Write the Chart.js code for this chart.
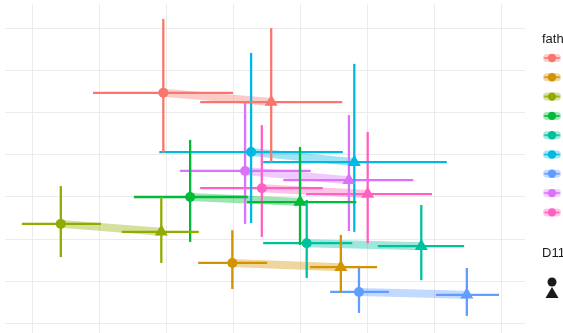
<!DOCTYPE html>
<html>
<head>
<meta charset="utf-8">
<script src="https://cdn.jsdelivr.net/npm/chart.js@4"></script>
<style>
  html, body { margin: 0; padding: 0; background: #fff; }
  #wrap { width: 563px; height: 333px; overflow: hidden; }
</style>
</head>
<body>
<div id="wrap"><canvas id="chart" width="563" height="333"></canvas></div>
<script>
// one entry per level of "father", in legend order
var fathColors = ['#F8766D', '#D39200', '#93AA00', '#00BA38', '#00C19F', '#00B9E3', '#619CFF', '#DB72FB', '#FF61C3'];

// D11 = first level (circles)
var x1   = [1.96, 2.99, 0.43, 2.36, 4.10, 3.27, 4.88, 3.18, 3.43];
var x1Lo = [0.91, 2.48, -0.15, 1.52, 3.45, 1.90, 4.45, 2.21, 2.51];
var x1Hi = [3.00, 3.51, 1.03, 3.22, 4.78, 4.64, 5.33, 4.16, 4.34];
var y1   = [5.48, 1.43, 2.36, 3.00, 1.90, 4.07, 0.74, 3.62, 3.21];
var y1Lo = [4.05, 0.81, 1.57, 1.93, 1.07, 2.38, 0.24, 2.36, 2.05];
var y1Hi = [7.24, 2.21, 3.26, 4.36, 2.93, 6.43, 1.36, 5.26, 4.71];

// D11 = second level (triangles)
var x2   = [3.57, 4.61, 1.93, 4.00, 5.81, 4.81, 6.49, 4.73, 5.01];
var x2Lo = [2.51, 4.15, 1.34, 3.21, 5.16, 3.45, 6.03, 3.75, 4.09];
var x2Hi = [4.63, 5.15, 2.49, 4.84, 6.45, 6.19, 6.97, 5.69, 5.97];
var y2   = [5.26, 1.33, 2.17, 2.88, 1.83, 3.83, 0.67, 3.40, 3.07];
var y2Lo = [3.83, 0.71, 1.43, 1.86, 1.02, 2.17, 0.17, 2.19, 1.90];
var y2Hi = [7.02, 2.10, 3.00, 4.19, 2.81, 6.17, 1.31, 4.95, 4.55];

function alpha(hex, a) {
    var n = parseInt(hex.slice(1), 16);
    return 'rgba(' + (n >> 16) + ',' + ((n >> 8) & 255) + ',' + (n & 255) + ',' + a + ')';
}

function segment(data, color, width, order) {
    return {
        type: 'line', data: data, borderColor: color, borderWidth: width,
        pointRadius: 0, showLine: true, fill: false, order: order
    };
}

var datasets = [];
for (var i = 0; i < fathColors.length; i++) {
    var c = fathColors[i];
    // connecting band
    datasets.push(segment([{x: x1[i], y: y1[i]}, {x: x2[i], y: y2[i]}], alpha(c, 0.38), 8, 3));
    // error bars
    datasets.push(segment([{x: x1Lo[i], y: y1[i]}, {x: x1Hi[i], y: y1[i]}], c, 2.3, 2));
    datasets.push(segment([{x: x1[i], y: y1Lo[i]}, {x: x1[i], y: y1Hi[i]}], c, 2.3, 2));
    datasets.push(segment([{x: x2Lo[i], y: y2[i]}, {x: x2Hi[i], y: y2[i]}], c, 2.3, 2));
    datasets.push(segment([{x: x2[i], y: y2Lo[i]}, {x: x2[i], y: y2Hi[i]}], c, 2.3, 2));
    // points
    datasets.push({
        type: 'scatter', data: [{x: x1[i], y: y1[i]}], pointStyle: 'circle',
        pointRadius: 5, backgroundColor: c, borderColor: c, borderWidth: 0, order: 1
    });
    datasets.push({
        type: 'scatter', data: [{x: x2[i], y: y2[i]}], pointStyle: 'triangle',
        pointRadius: 7.5, backgroundColor: c, borderColor: c, borderWidth: 0, order: 1
    });
}

// legend drawn by hand to the right of the panel
var legendPlugin = {
    id: 'sideLegend',
    afterDraw: function (chart) {
        var ctx = chart.ctx;
        ctx.save();
        ctx.fillStyle = '#1a1a1a';
        ctx.font = '13px "Liberation Sans", Arial, sans-serif';
        ctx.textBaseline = 'middle';
        ctx.fillText('father', 542, 39);
        for (var k = 0; k < fathColors.length; k++) {
            var yy = 58 + k * 19.3;
            ctx.strokeStyle = alpha(fathColors[k], 0.35);
            ctx.lineWidth = 8;
            ctx.lineCap = 'round';
            ctx.beginPath(); ctx.moveTo(547, yy); ctx.lineTo(557, yy); ctx.stroke();
            ctx.strokeStyle = alpha(fathColors[k], 0.8);
            ctx.lineWidth = 2;
            ctx.beginPath(); ctx.moveTo(545, yy); ctx.lineTo(559, yy); ctx.stroke();
            ctx.fillStyle = fathColors[k];
            ctx.beginPath(); ctx.arc(552, yy, 4.2, 0, Math.PI * 2); ctx.fill();
        }
        ctx.fillStyle = '#1a1a1a';
        ctx.fillText('D11', 542, 253);
        ctx.beginPath(); ctx.arc(552, 282, 4.5, 0, Math.PI * 2); ctx.fill();
        ctx.beginPath();
        ctx.moveTo(552, 287); ctx.lineTo(558.5, 298); ctx.lineTo(545.5, 298); ctx.closePath();
        ctx.fill();
        ctx.restore();
    }
};

var ctx = document.getElementById('chart').getContext('2d');
var chart = new Chart(ctx, {
    type: 'scatter',
    data: { datasets: datasets },
    options: {
        responsive: false,
        animation: false,
        layout: { autoPadding: false, padding: { left: 5, top: 4, right: 38, bottom: 0 } },
        plugins: { legend: { display: false }, tooltip: { enabled: false } },
        scales: {
            x: {
                type: 'linear', min: -0.403, max: 7.358,
                ticks: { display: false, stepSize: 1, includeBounds: false },
                grid: { color: '#ebebeb', lineWidth: 1, drawTicks: false },
                border: { display: false },
                afterFit: function (s) { s.height = 0; }
            },
            y: {
                type: 'linear', min: -0.238, max: 7.595,
                ticks: { display: false, stepSize: 1, includeBounds: false },
                grid: { color: '#ebebeb', lineWidth: 1, drawTicks: false },
                border: { display: false },
                afterFit: function (s) { s.width = 0; }
            }
        }
    },
    plugins: [legendPlugin]
});
</script>
</body>
</html>
